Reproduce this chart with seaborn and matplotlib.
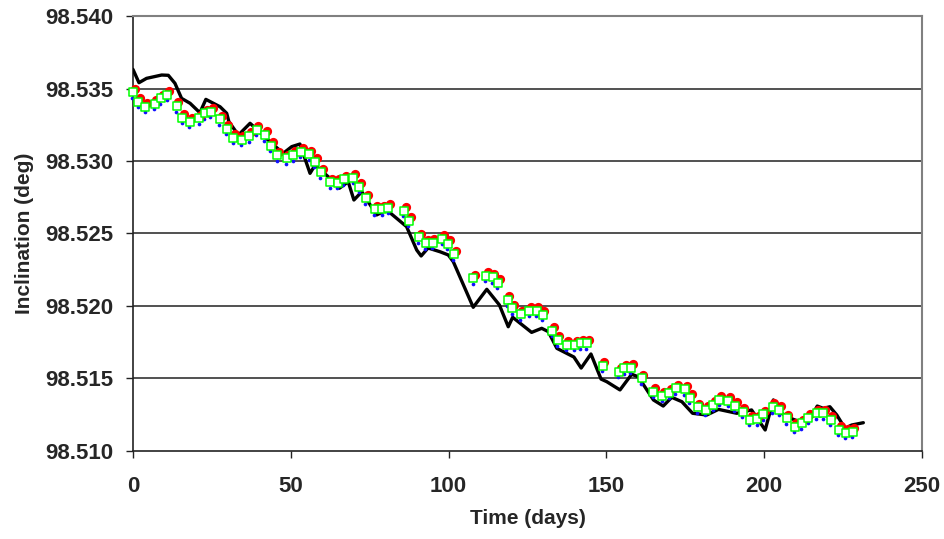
import matplotlib
matplotlib.use("Agg")
import matplotlib.pyplot as plt
import matplotlib.transforms as mtransforms
import seaborn as sns
import pandas as pd

# ---- data ----
obs_days = [0, 1.7, 3.9, 6.9, 8.9, 10.9, 13.8, 15.6, 18.1, 21.0, 22.8, 24.7, 27.6, 29.7,
            31.8, 34.4, 36.9, 39.2, 41.8, 43.7, 45.7, 48.7, 50.8, 53.2, 55.9, 57.7, 59.6,
            62.5, 64.9, 66.9, 69.8, 71.7, 73.8, 76.7, 79.0, 80.9, 85.9, 87.5, 90.6, 92.8,
            95.0, 98.0, 99.8, 101.7, 107.8, 111.9, 114.0, 115.7, 118.7, 120.2, 122.8,
            125.6, 127.9, 129.8, 132.9, 134.6, 137.4, 140.0, 141.9, 143.8, 148.8, 154.0,
            155.7, 157.8, 161.2, 164.9, 167.7, 169.9, 172.0, 174.9, 176.5, 178.9, 181.6,
            183.9, 185.8, 188.6, 190.7, 193.2, 195.5, 197.8, 199.7, 202.7, 204.8, 207.1,
            209.6, 211.9, 214.0, 216.6, 218.7, 221.1, 223.7, 225.9, 228.0]

green_incl = [98.53474, 98.53409, 98.53374, 98.53393, 98.53432, 98.53457, 98.53379, 98.53297,
              98.53271, 98.53294, 98.53329, 98.53338, 98.53288, 98.53221, 98.53161, 98.53145,
              98.53172, 98.53214, 98.53179, 98.53105, 98.53039, 98.53019, 98.53041, 98.53062,
              98.53046, 98.52995, 98.52922, 98.52853, 98.52850, 98.52874, 98.52885, 98.52823,
              98.52743, 98.52667, 98.52667, 98.52678, 98.52657, 98.52588, 98.52474, 98.52432,
              98.52436, 98.52462, 98.52428, 98.52356, 98.52191, 98.52207, 98.52198, 98.52161,
              98.52041, 98.51984, 98.51943, 98.51967, 98.51967, 98.51938, 98.51830, 98.51765,
              98.51731, 98.51731, 98.51743, 98.51743, 98.51588, 98.51547, 98.51570, 98.51574,
              98.51501, 98.51409, 98.51379, 98.51402, 98.51432, 98.51427, 98.51367, 98.51301,
              98.51283, 98.51317, 98.51352, 98.51347, 98.51310, 98.51271, 98.51214, 98.51218,
              98.51252, 98.51303, 98.51286, 98.51225, 98.51167, 98.51191, 98.51230, 98.51260,
              98.51260, 98.51214, 98.51145, 98.51126, 98.51133]

red_incl = [98.53489, 98.53424, 98.53389, 98.53408, 98.53447, 98.53472, 98.53394, 98.53312,
            98.53286, 98.53309, 98.53344, 98.53353, 98.53303, 98.53236, 98.53176, 98.53160,
            98.53187, 98.53229, 98.53194, 98.53120, 98.53054, 98.53034, 98.53056, 98.53077,
            98.53061, 98.53010, 98.52937, 98.52868, 98.52865, 98.52889, 98.52900, 98.52838,
            98.52758, 98.52682, 98.52682, 98.52693, 98.52672, 98.52603, 98.52489, 98.52447,
            98.52451, 98.52477, 98.52443, 98.52371, 98.52206, 98.52222, 98.52213, 98.52176,
            98.52056, 98.51999, 98.51958, 98.51982, 98.51982, 98.51953, 98.51845, 98.51780,
            98.51746, 98.51746, 98.51758, 98.51758, 98.51603, 98.51562, 98.51585, 98.51589,
            98.51516, 98.51424, 98.51394, 98.51417, 98.51447, 98.51442, 98.51382, 98.51316,
            98.51298, 98.51332, 98.51367, 98.51362, 98.51325, 98.51286, 98.51229, 98.51233,
            98.51267, 98.51318, 98.51301, 98.51240, 98.51182, 98.51206, 98.51245, 98.51275,
            98.51275, 98.51229, 98.51160, 98.51141, 98.51148]

blue_incl = [98.53444, 98.53379, 98.53344, 98.53363, 98.53402, 98.53427, 98.53349, 98.53267,
             98.53241, 98.53264, 98.53299, 98.53308, 98.53258, 98.53191, 98.53131, 98.53115,
             98.53142, 98.53184, 98.53149, 98.53075, 98.53009, 98.52989, 98.53011, 98.53032,
             98.53016, 98.52965, 98.52892, 98.52823, 98.52820, 98.52844, 98.52855, 98.52793,
             98.52713, 98.52637, 98.52637, 98.52648, 98.52627, 98.52558, 98.52444, 98.52402,
             98.52406, 98.52432, 98.52398, 98.52326, 98.52161, 98.52177, 98.52168, 98.52131,
             98.52011, 98.51954, 98.51913, 98.51937, 98.51937, 98.51908, 98.51800, 98.51735,
             98.51701, 98.51701, 98.51713, 98.51713, 98.51558, 98.51517, 98.51540, 98.51544,
             98.51471, 98.51379, 98.51349, 98.51372, 98.51402, 98.51397, 98.51337, 98.51271,
             98.51253, 98.51287, 98.51322, 98.51317, 98.51280, 98.51241, 98.51184, 98.51188,
             98.51222, 98.51273, 98.51256, 98.51195, 98.51137, 98.51161, 98.51200, 98.51230,
             98.51230, 98.51184, 98.51115, 98.51096, 98.51103]

model_days = [0, 1.9, 4.3, 9.1, 11.2, 13.3, 15.4, 18.1, 21.2, 23.1, 27.6, 29.7, 30.4, 33.4,
              37.1, 39.2, 43.4, 47.6, 50.3, 52.9, 56.1, 57.7, 62.4, 65.4, 68.2, 70.0, 72.5,
              77.2, 80.4, 86.7, 89.9, 91.3, 93.5, 97.3, 99.9, 101.5, 107.8, 112.1, 116.1,
              118.9, 120.3, 126.3, 129.5, 131.6, 134.3, 139.7, 142.0, 145.1, 148.3, 150.1,
              154.3, 158.0, 160.1, 164.9, 168.0, 170.7, 173.9, 177.3, 181.8, 185.5, 191.3,
              196.0, 200.3, 202.9, 205.5, 209.2, 212.4, 214.5, 216.8, 218.7, 220.8, 223.0,
              225.6, 227.7, 231.4]
model_incl = [98.53632, 98.53540, 98.53570, 98.53593, 98.53591, 98.53536, 98.53432, 98.53398,
              98.53333, 98.53425, 98.53374, 98.53329, 98.53271, 98.53179, 98.53260, 98.53219,
              98.53133, 98.53053, 98.53099, 98.53117, 98.52915, 98.52972, 98.52881, 98.52812,
              98.52857, 98.52731, 98.52788, 98.52628, 98.52662, 98.52547, 98.52386, 98.52345,
              98.52400, 98.52374, 98.52352, 98.52305, 98.51991, 98.52115, 98.52007, 98.51857,
              98.51922, 98.51818, 98.51846, 98.51823, 98.51708, 98.51648, 98.51572, 98.51669,
              98.51496, 98.51478, 98.51421, 98.51529, 98.51512, 98.51352, 98.51310, 98.51370,
              98.51340, 98.51260, 98.51248, 98.51287, 98.51260, 98.51283, 98.51145, 98.51352,
              98.51260, 98.51218, 98.51195, 98.51218, 98.51310, 98.51294, 98.51305, 98.51248,
              98.51156, 98.51179, 98.51195]

x_ticks = [0, 50, 100, 150, 200, 250]
y_ticks = [98.510, 98.515, 98.520, 98.525, 98.530, 98.535, 98.540]

# ---- figure ----
sns.set_theme(style="white")
plt.rcParams["font.family"] = ["Liberation Sans", "DejaVu Sans"]
plt.rcParams["font.weight"] = "bold"

fig = plt.figure(figsize=(9.45, 5.39), dpi=100)
ax = fig.add_axes([0.1407, 0.1633, 0.9757 - 0.1407, 0.9703 - 0.1633])

df_obs = pd.DataFrame({"day": obs_days, "green": green_incl, "red": red_incl, "blue": blue_incl})
df_model = pd.DataFrame({"day": model_days, "incl": model_incl})

sns.lineplot(data=df_model, x="day", y="incl", ax=ax, color="black", linewidth=2.4,
             sort=False, zorder=3)

blue_tr = mtransforms.offset_copy(ax.transData, fig=fig, x=-0.5, y=-0.8, units="points")
sns.scatterplot(data=df_obs, x="day", y="blue", ax=ax, color="#1010ff", marker="o",
                s=7, linewidth=0, zorder=4, transform=blue_tr)
red_tr = mtransforms.offset_copy(ax.transData, fig=fig, x=1.2, y=1.0, units="points")
sns.scatterplot(data=df_obs, x="day", y="red", ax=ax, color="#ff0000", marker="o",
                s=44, linewidth=0, zorder=5, transform=red_tr)
sns.scatterplot(data=df_obs, x="day", y="green", ax=ax, facecolor="white",
                edgecolor="#00ff00", marker="s", s=38, linewidth=1.1, zorder=6)

for coll in ax.collections:
    coll.set_clip_on(False)

ax.set_xlim(0, 250)
ax.set_ylim(98.510, 98.540)
ax.set_xticks(x_ticks)
ax.set_yticks(y_ticks)
ax.set_xticklabels([f"{v:d}" for v in x_ticks])
ax.set_yticklabels([f"{v:.3f}" for v in y_ticks])

ax.grid(False)
for yv in y_ticks[1:-1]:
    ax.axhline(yv, color="#222222", linewidth=1.1, zorder=1)

for side in ["left", "bottom"]:
    ax.spines[side].set_color("#222222")
    ax.spines[side].set_linewidth(1.2)
for side in ["top", "right"]:
    ax.spines[side].set_color("#808080")
    ax.spines[side].set_linewidth(1.5)
    ax.spines[side].set_visible(True)

ax.tick_params(axis="both", which="major", direction="out", length=5, width=1,
               color="#222222", labelsize=16, bottom=True, left=True)
ax.tick_params(axis="x", pad=13)
ax.tick_params(axis="y", pad=9)
for lab in ax.get_xticklabels() + ax.get_yticklabels():
    lab.set_fontweight("bold")

ax.set_xlabel("Time (days)", fontsize=15, fontweight="bold", labelpad=9)
ax.set_ylabel("Inclination (deg)", fontsize=15, fontweight="bold", labelpad=8)

fig.savefig("out.png", dpi=100, facecolor="white")
